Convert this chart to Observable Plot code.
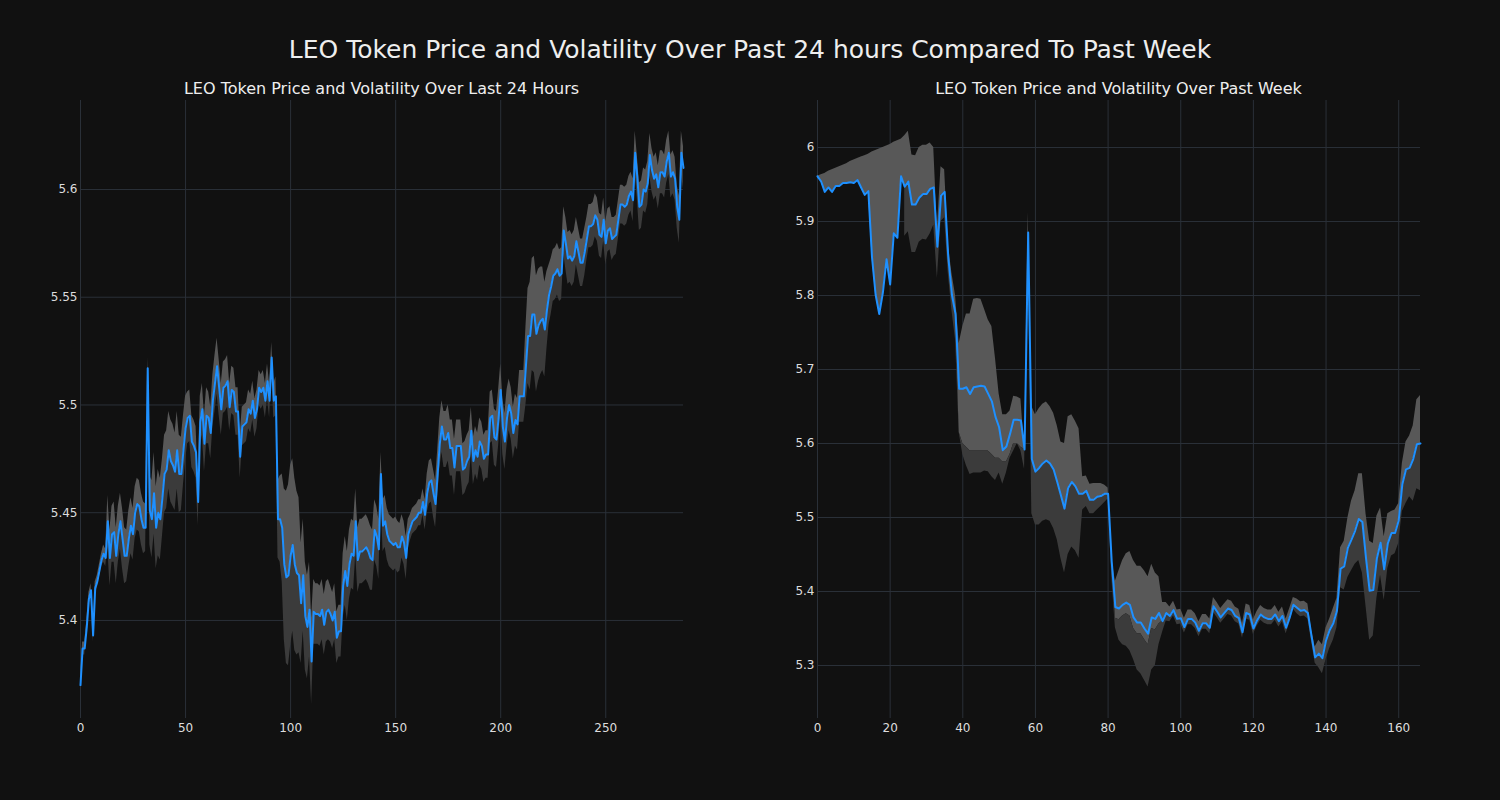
<!DOCTYPE html>
<html>
<head>
<meta charset="utf-8">
<script src="https://cdn.jsdelivr.net/npm/d3@7"></script>
<script src="https://cdn.jsdelivr.net/npm/@observablehq/plot@0.6"></script>
<style>
  html, body { margin: 0; padding: 0; background: #111111; }
  body { width: 1500px; height: 800px; position: relative; overflow: hidden; font-family: "DejaVu Sans", sans-serif; }
  #title { position: absolute; left: 0; top: 35px; width: 1500px; text-align: center; color: #eeeeee; font-size: 25px; line-height: 30px; }
  .sub { position: absolute; top: 79px; width: 750px; text-align: center; color: #eeeeee; font-size: 16px; line-height: 20px; }
  #dayChart { position: absolute; left: 0; top: 0; }
  #weekChart { position: absolute; left: 750px; top: 0; }
</style>
</head>
<body>
<div id="title">LEO Token Price and Volatility Over Past 24 hours Compared To Past Week</div>
<div class="sub" id="daySub" style="left:6.5px">LEO Token Price and Volatility Over Last 24 Hours</div>
<div class="sub" id="weekSub" style="left:743.5px">LEO Token Price and Volatility Over Past Week</div>
<div id="dayChart"></div>
<div id="weekChart"></div>
<script>
// ---------- Last 24 hours (5-minute steps) ----------
const dayPrice = [
5.370,5.387,5.387,5.397,5.410,5.414,5.393,5.415,5.418,5.423,
5.428,5.431,5.429,5.446,5.429,5.440,5.441,5.430,5.440,5.446,
5.438,5.430,5.430,5.438,5.444,5.440,5.450,5.454,5.453,5.447,
5.443,5.443,5.517,5.451,5.447,5.459,5.443,5.450,5.447,5.457,
5.468,5.470,5.479,5.474,5.472,5.469,5.479,5.468,5.468,5.479,
5.489,5.494,5.495,5.483,5.481,5.478,5.455,5.492,5.498,5.482,
5.495,5.494,5.487,5.502,5.510,5.518,5.508,5.498,5.508,5.509,
5.511,5.499,5.507,5.506,5.497,5.497,5.476,5.490,5.491,5.492,
5.498,5.496,5.502,5.494,5.498,5.508,5.506,5.508,5.502,5.511,
5.502,5.522,5.502,5.504,5.447,5.447,5.443,5.426,5.420,5.421,
5.430,5.435,5.426,5.422,5.421,5.408,5.421,5.402,5.397,5.405,
5.381,5.404,5.403,5.403,5.402,5.405,5.398,5.404,5.405,5.403,
5.400,5.404,5.392,5.395,5.395,5.416,5.423,5.416,5.426,5.431,
5.430,5.446,5.428,5.432,5.432,5.433,5.434,5.432,5.429,5.428,
5.442,5.439,5.433,5.468,5.444,5.446,5.440,5.437,5.436,5.435,
5.436,5.434,5.434,5.439,5.436,5.429,5.440,5.443,5.446,5.447,
5.448,5.450,5.450,5.455,5.449,5.459,5.464,5.465,5.459,5.454,
5.468,5.482,5.490,5.484,5.484,5.487,5.480,5.480,5.471,5.481,
5.481,5.481,5.470,5.471,5.474,5.476,5.488,5.474,5.479,5.476,
5.483,5.481,5.475,5.477,5.477,5.494,5.495,5.485,5.484,5.494,
5.507,5.490,5.483,5.494,5.500,5.496,5.487,5.493,5.491,5.504,
5.504,5.504,5.518,5.532,5.532,5.542,5.542,5.533,5.537,5.539,
5.540,5.535,5.544,5.551,5.555,5.560,5.561,5.563,5.560,5.561,
5.581,5.575,5.568,5.569,5.567,5.569,5.576,5.571,5.566,5.566,
5.571,5.577,5.583,5.583,5.584,5.588,5.586,5.579,5.578,5.586,
5.575,5.581,5.582,5.577,5.578,5.579,5.586,5.593,5.593,5.592,
5.593,5.597,5.599,5.595,5.617,5.606,5.592,5.593,5.600,5.599,
5.603,5.616,5.609,5.605,5.607,5.601,5.608,5.608,5.606,5.613,
5.617,5.606,5.608,5.605,5.592,5.586,5.617,5.610
];
// half-width of the volatility band around the price
const dayVolatility = [
0.002,0.003,0.003,0.003,0.003,0.003,0.003,0.003,0.003,0.003,
0.003,0.004,0.004,0.012,0.013,0.013,0.014,0.013,0.013,0.013,
0.014,0.013,0.012,0.013,0.013,0.012,0.012,0.012,0.012,0.012,
0.012,0.011,0.005,0.016,0.018,0.019,0.019,0.020,0.019,0.018,
0.018,0.018,0.018,0.019,0.019,0.018,0.018,0.018,0.017,0.016,
0.015,0.012,0.012,0.012,0.012,0.012,0.011,0.012,0.012,0.013,
0.013,0.012,0.012,0.012,0.013,0.013,0.013,0.012,0.012,0.012,
0.012,0.011,0.011,0.011,0.011,0.011,0.010,0.009,0.009,0.009,
0.009,0.009,0.009,0.009,0.009,0.008,0.008,0.008,0.008,0.008,
0.008,0.007,0.008,0.009,0.018,0.020,0.025,0.035,0.040,0.042,
0.042,0.040,0.040,0.038,0.036,0.028,0.026,0.025,0.024,0.022,
0.020,0.015,0.014,0.014,0.014,0.014,0.014,0.014,0.014,0.013,
0.013,0.013,0.012,0.012,0.012,0.015,0.016,0.016,0.016,0.016,
0.016,0.015,0.015,0.015,0.015,0.015,0.015,0.015,0.015,0.014,
0.014,0.014,0.014,0.010,0.012,0.012,0.012,0.012,0.012,0.012,
0.012,0.012,0.011,0.010,0.010,0.010,0.007,0.006,0.006,0.006,
0.006,0.006,0.006,0.006,0.007,0.009,0.010,0.010,0.011,0.011,
0.011,0.012,0.012,0.013,0.013,0.013,0.013,0.013,0.013,0.012,
0.012,0.012,0.012,0.012,0.012,0.012,0.011,0.011,0.011,0.011,
0.011,0.011,0.011,0.011,0.011,0.012,0.012,0.013,0.013,0.013,
0.012,0.013,0.013,0.013,0.012,0.012,0.012,0.012,0.012,0.012,
0.012,0.012,0.018,0.022,0.025,0.026,0.027,0.027,0.026,0.025,
0.024,0.022,0.018,0.014,0.013,0.012,0.012,0.012,0.012,0.012,
0.011,0.012,0.012,0.012,0.012,0.012,0.011,0.011,0.011,0.011,
0.011,0.010,0.010,0.010,0.010,0.010,0.010,0.010,0.010,0.010,
0.010,0.010,0.010,0.010,0.009,0.009,0.009,0.009,0.009,0.009,
0.009,0.009,0.009,0.010,0.010,0.010,0.011,0.011,0.010,0.010,
0.010,0.010,0.010,0.010,0.010,0.010,0.010,0.010,0.010,0.010,
0.010,0.010,0.010,0.010,0.010,0.011,0.010,0.010
];
const dayXTicks = [0, 50, 100, 150, 200, 250];
const dayYTicks = [5.4, 5.45, 5.5, 5.55, 5.6];
const dayXDomain = [0, 287];
const dayYDomain = [5.3545, 5.6413];

// ---------- Past week (hourly steps) ----------
const weekPrice = [
5.961,5.954,5.940,5.946,5.940,5.948,5.948,5.952,5.952,5.953,
5.952,5.956,5.946,5.936,5.941,5.852,5.801,5.775,5.804,5.849,
5.815,5.884,5.878,5.961,5.947,5.954,5.923,5.923,5.932,5.937,
5.937,5.944,5.946,5.866,5.935,5.940,5.852,5.801,5.775,5.674,
5.674,5.676,5.667,5.676,5.677,5.678,5.677,5.667,5.657,5.636,
5.622,5.591,5.596,5.613,5.632,5.632,5.631,5.592,5.885,5.579,
5.562,5.567,5.573,5.577,5.573,5.565,5.548,5.530,5.512,5.540,
5.548,5.542,5.532,5.532,5.536,5.524,5.524,5.528,5.529,5.532,
5.532,5.440,5.379,5.377,5.382,5.385,5.382,5.365,5.358,5.358,
5.350,5.343,5.365,5.363,5.371,5.360,5.371,5.367,5.375,5.363,
5.364,5.352,5.363,5.363,5.358,5.347,5.357,5.357,5.351,5.380,
5.373,5.365,5.371,5.377,5.375,5.367,5.364,5.345,5.371,5.369,
5.350,5.361,5.369,5.365,5.363,5.363,5.369,5.360,5.367,5.351,
5.365,5.382,5.378,5.374,5.375,5.371,5.340,5.311,5.316,5.310,
5.334,5.348,5.357,5.374,5.431,5.434,5.459,5.470,5.482,5.498,
5.494,5.445,5.401,5.402,5.445,5.466,5.430,5.465,5.479,5.479,
5.496,5.545,5.565,5.567,5.579,5.599,5.600
];
const weekUpper = [
5.961,5.963,5.965,5.968,5.970,5.972,5.974,5.976,5.978,5.981,
5.983,5.985,5.987,5.989,5.991,5.994,5.996,5.998,6.000,6.002,
6.004,6.007,6.009,6.011,6.016,6.022,5.990,5.989,6.000,6.003,
6.003,6.006,6.000,5.890,5.974,5.970,5.870,5.830,5.800,5.735,
5.758,5.775,5.775,5.795,5.796,5.795,5.781,5.767,5.758,5.715,
5.667,5.639,5.639,5.644,5.664,5.663,5.660,5.592,5.912,5.650,
5.639,5.647,5.653,5.656,5.650,5.641,5.624,5.602,5.600,5.636,
5.639,5.630,5.620,5.555,5.556,5.545,5.546,5.546,5.546,5.544,
5.540,5.445,5.414,5.428,5.442,5.451,5.454,5.442,5.434,5.434,
5.428,5.420,5.437,5.425,5.420,5.385,5.385,5.379,5.387,5.375,
5.376,5.364,5.375,5.375,5.370,5.359,5.369,5.369,5.363,5.392,
5.385,5.377,5.383,5.389,5.387,5.379,5.376,5.357,5.383,5.381,
5.362,5.373,5.381,5.377,5.375,5.375,5.381,5.372,5.379,5.363,
5.377,5.392,5.390,5.386,5.387,5.383,5.348,5.325,5.334,5.328,
5.351,5.363,5.377,5.391,5.459,5.468,5.499,5.522,5.536,5.559,
5.559,5.505,5.468,5.465,5.502,5.513,5.474,5.505,5.508,5.510,
5.519,5.573,5.602,5.610,5.624,5.659,5.665
];
// boundary between the lighter and darker shades (null = at the price line)
const weekSplit = [
null,null,null,null,null,null,null,null,null,null,
null,null,null,null,null,null,null,null,null,null,
null,null,null,null,null,null,null,null,null,null,
null,null,null,null,null,null,null,null,null,5.615,
5.600,5.595,5.590,5.590,5.590,5.590,5.590,5.590,5.585,5.580,
5.580,5.575,5.575,5.585,5.600,5.600,5.595,null,null,null,
null,null,null,null,null,null,null,null,null,null,
null,null,null,null,null,null,null,null,null,null,
null,null,5.364,5.362,5.367,5.370,5.367,5.350,5.343,5.343,
5.335,5.328,5.350,5.348,5.356,null,null,null,null,null,
null,null,null,null,null,null,null,null,null,null,
null,null,null,null,null,null,null,null,null,null,
null,null,null,null,null,null,null,null,null,null,
null,null,null,null,null,null,null,null,null,null,
null,null,null,null,null,null,null,null,null,null,
null,null,null,null,null,null,null,null,null,null,
null,null,null,null,null,null,null
];
const weekLower = [
null,null,null,null,null,null,null,null,null,null,
null,null,null,null,null,null,null,null,null,null,
null,null,null,null,5.880,5.886,5.858,5.858,5.872,5.876,
5.875,5.883,5.895,5.823,5.900,5.905,5.830,5.780,5.740,5.615,
5.585,5.570,5.558,5.560,5.560,5.560,5.563,5.562,5.555,5.550,
5.560,5.545,5.560,5.580,5.590,5.600,5.590,5.565,5.860,5.505,
5.490,5.490,5.495,5.497,5.495,5.485,5.470,5.445,5.425,5.450,
5.460,5.455,5.445,5.510,5.515,5.505,5.505,5.510,5.515,5.520,
5.525,5.420,5.351,5.334,5.328,5.326,5.320,5.308,5.294,5.289,
5.280,5.271,5.294,5.300,5.328,5.345,5.360,5.359,5.367,5.355,
5.356,5.344,5.355,5.355,5.350,5.339,5.349,5.349,5.343,5.372,
5.365,5.357,5.363,5.369,5.367,5.359,5.356,5.337,5.363,5.361,
5.342,5.353,5.361,5.357,5.355,5.355,5.361,5.352,5.359,5.343,
5.357,5.376,5.370,5.366,5.367,5.363,5.332,5.303,5.297,5.289,
5.308,5.323,5.334,5.351,5.405,5.402,5.419,5.428,5.437,5.442,
5.425,5.380,5.334,5.340,5.391,5.422,5.388,5.431,5.448,5.451,
5.465,5.508,5.519,5.528,5.522,5.539,5.536
];
const weekXTicks = [0, 20, 40, 60, 80, 100, 120, 140, 160];
const weekYTicks = [5.3, 5.4, 5.5, 5.6, 5.7, 5.8, 5.9, 6.0];
const weekXDomain = [0, 166];
const weekYDomain = [5.2284, 6.0635];

// ---------- build rows ----------
const dayRows = dayPrice.map((p, i) => ({
  i, price: p, upper: p + dayVolatility[i], split: p, lower: p - dayVolatility[i]
}));
const weekRows = weekPrice.map((p, i) => ({
  i, price: p, upper: weekUpper[i],
  split: weekSplit[i] == null ? p : weekSplit[i],
  lower: weekLower[i]
}));

const fmt = d => String(+d.toFixed(3));
const GRID = "#2a3038";

function panel(rows, xDomain, yDomain, xTicks, yTicks, ml, mr) {
  return Plot.plot({
    width: 750,
    height: 800,
    marginTop: 100,
    marginBottom: 82,
    marginLeft: ml,
    marginRight: mr,
    style: { background: "transparent", color: "#dddddd", fontFamily: "DejaVu Sans, sans-serif", fontSize: "12px", overflow: "visible" },
    x: { domain: xDomain, label: null },
    y: { domain: yDomain, label: null },
    marks: [
      Plot.gridY(yTicks, { stroke: GRID, strokeOpacity: 1, strokeWidth: 1 }),
      Plot.gridX(xTicks, { stroke: GRID, strokeOpacity: 1, strokeWidth: 1 }),
      Plot.areaY(rows, { x: "i", y1: "split", y2: "upper", fill: "#585858", fillOpacity: 1 }),
      Plot.areaY(rows, { x: "i", y1: "lower", y2: "split", fill: "#3b3b3b", fillOpacity: 1 }),
      Plot.lineY(rows, { x: "i", y: "price", stroke: "#1e90ff", strokeWidth: 2 }),
      Plot.axisX(xTicks, { tickSize: 0, tickPadding: 5, label: null, tickFormat: d => String(d) }),
      Plot.axisY(yTicks, { tickSize: 0, tickPadding: 3, label: null, tickFormat: fmt })
    ]
  });
}

document.getElementById("dayChart").append(
  panel(dayRows, dayXDomain, dayYDomain, dayXTicks, dayYTicks, 80, 67)
);
document.getElementById("weekChart").append(
  panel(weekRows, weekXDomain, weekYDomain, weekXTicks, weekYTicks, 67, 80)
);
</script>
</body>
</html>
